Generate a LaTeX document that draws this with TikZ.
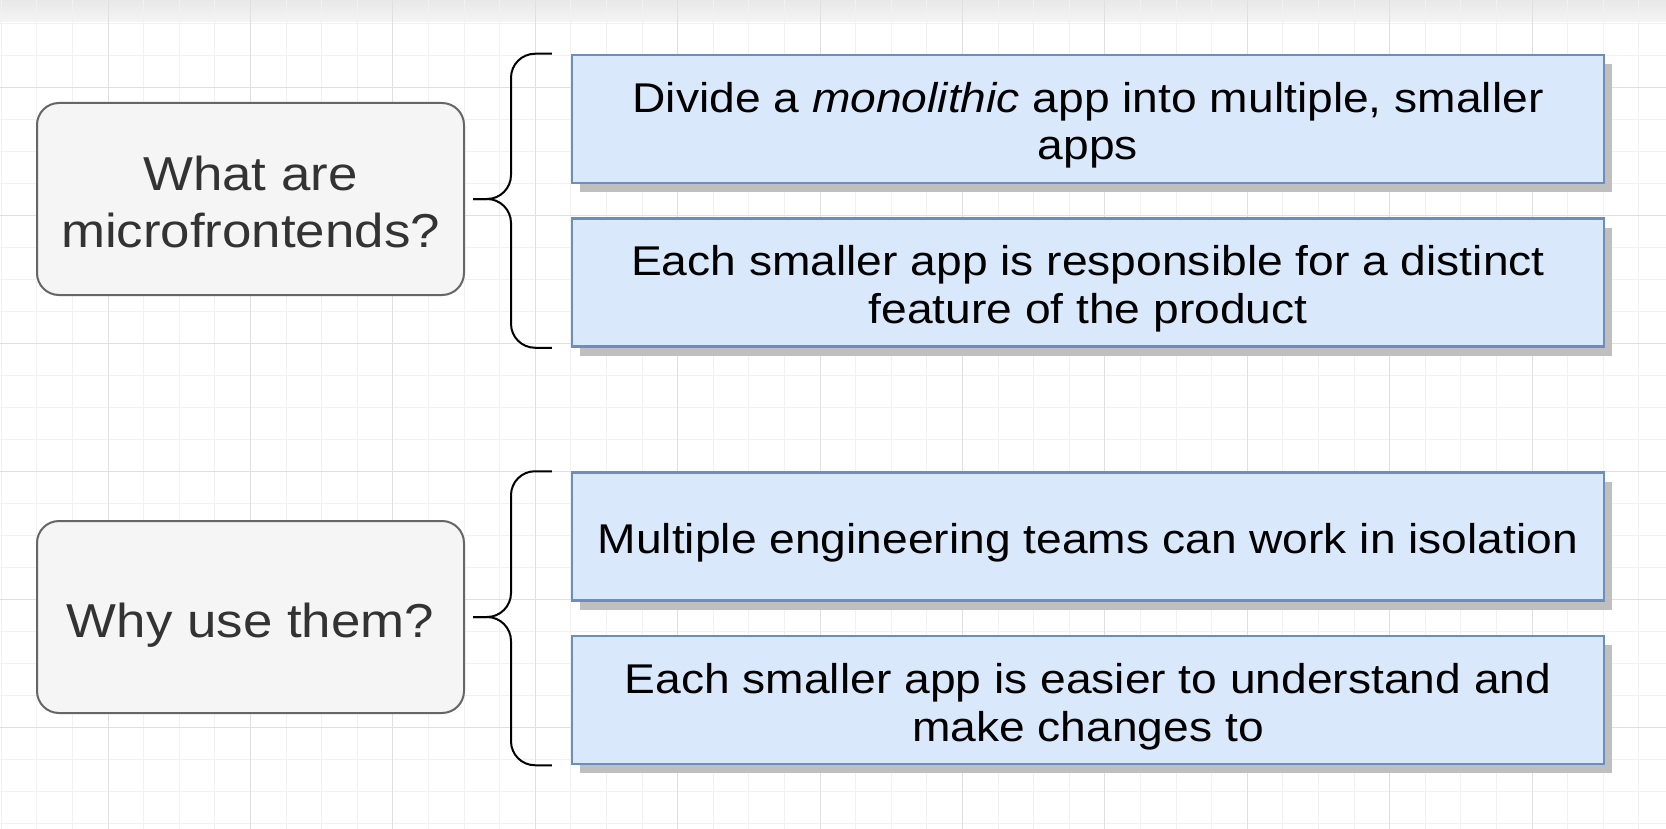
\documentclass[tikz,border=0pt]{standalone}
\usepackage{fontspec}
\setmainfont{Liberation Sans}[FakeStretch=1.11]
\usetikzlibrary{positioning,calc,shadows}
\definecolor{GridMinor}{HTML}{F1F1F1}
\definecolor{GridMajor}{HTML}{E0E0E0}
\definecolor{QuestionFill}{HTML}{F5F5F5}
\definecolor{QuestionLine}{HTML}{666666}
\definecolor{QuestionText}{HTML}{333333}
\definecolor{PointFill}{HTML}{DAE8FC}
\definecolor{PointLine}{HTML}{6C8EBF}
\definecolor{ShadowGray}{HTML}{BFBFBF}
\newcommand{\ptop}{\rule{0pt}{22pt}}
\newcommand{\qtop}{\rule{0pt}{25pt}}
\newcommand{\lowstrut}{\rule[-5pt]{0pt}{5pt}}

\begin{document}
\begin{tikzpicture}[
  x=0.5pt,y=-0.5pt,
  node distance=16.5pt,
  question/.style={draw=QuestionLine,line width=1pt,fill=QuestionFill,rounded corners=11pt,minimum width=213.5pt,minimum height=96pt,align=center,text=QuestionText,font=\fontsize{23.8}{28.8}\selectfont},
  point/.style={draw=PointLine,line width=1.25pt,fill=PointFill,minimum width=516pt,minimum height=64pt,align=center,font=\fontsize{20.8}{24}\selectfont,drop shadow={shadow xshift=4pt,shadow yshift=-4.5pt,fill=ShadowGray,opacity=1}},
  brace/.style={draw=black,line width=1pt,rounded corners=12pt},
  minorline/.style={GridMinor,line width=0.5pt},
  majorline/.style={GridMajor,line width=0.5pt}
]
% canvas and grid
\fill[white] (0,0) rectangle (1666,829);
\useasboundingbox (0,0) rectangle (1666,829);
\shade[top color=black!9,bottom color=black!4] (0,0) rectangle (1666,22);
\foreach \i in {0,...,46} \draw[minorline] ({1.2+35.6*\i},0) -- ++(0,829);
\foreach \j in {0,...,25} \draw[minorline] (0,{23.7+32*\j}) -- ++(1666,0);
\foreach \i in {3,7,...,43} \draw[majorline] ({1.2+35.6*\i},0) -- ++(0,829);
\foreach \j in {2,6,...,22} \draw[majorline] (0,{23.7+32*\j}) -- ++(1666,0);

% answers
\node[point] (a1) at (1088,119) {\ptop Divide a \textit{monolithic} app into multiple, smaller\\apps\lowstrut};
\node[point,below=of a1] (a2) {\ptop Each smaller app is responsible for a distinct\\feature of the product\lowstrut};
\node[point] (a3) at (1088,536.5) {\ptop Multiple engineering teams can work in isolation\lowstrut};
\node[point,below=of a3] (a4) {\ptop Each smaller app is easier to understand and\\make changes to\lowstrut};

% questions
\node[question] (q1) at (250.5,199) {\qtop What are\\microfrontends?\lowstrut};
\node[question] (q2) at (250.5,617) {\qtop Why use them?\lowstrut};

% braces
\draw[brace] ($(a1.north west)+(-19,0)$) -| ($(q1.east)+(46,0)$) -- ($(q1.east)+(8,0)$);
\draw[brace] ($(a2.south west)+(-19,0)$) -| ($(q1.east)+(46,0)$) -- ($(q1.east)+(8,0)$);
\draw[brace] ($(a3.north west)+(-19,0)$) -| ($(q2.east)+(46,0)$) -- ($(q2.east)+(8,0)$);
\draw[brace] ($(a4.south west)+(-19,0)$) -| ($(q2.east)+(46,0)$) -- ($(q2.east)+(8,0)$);
\end{tikzpicture}
\end{document}
